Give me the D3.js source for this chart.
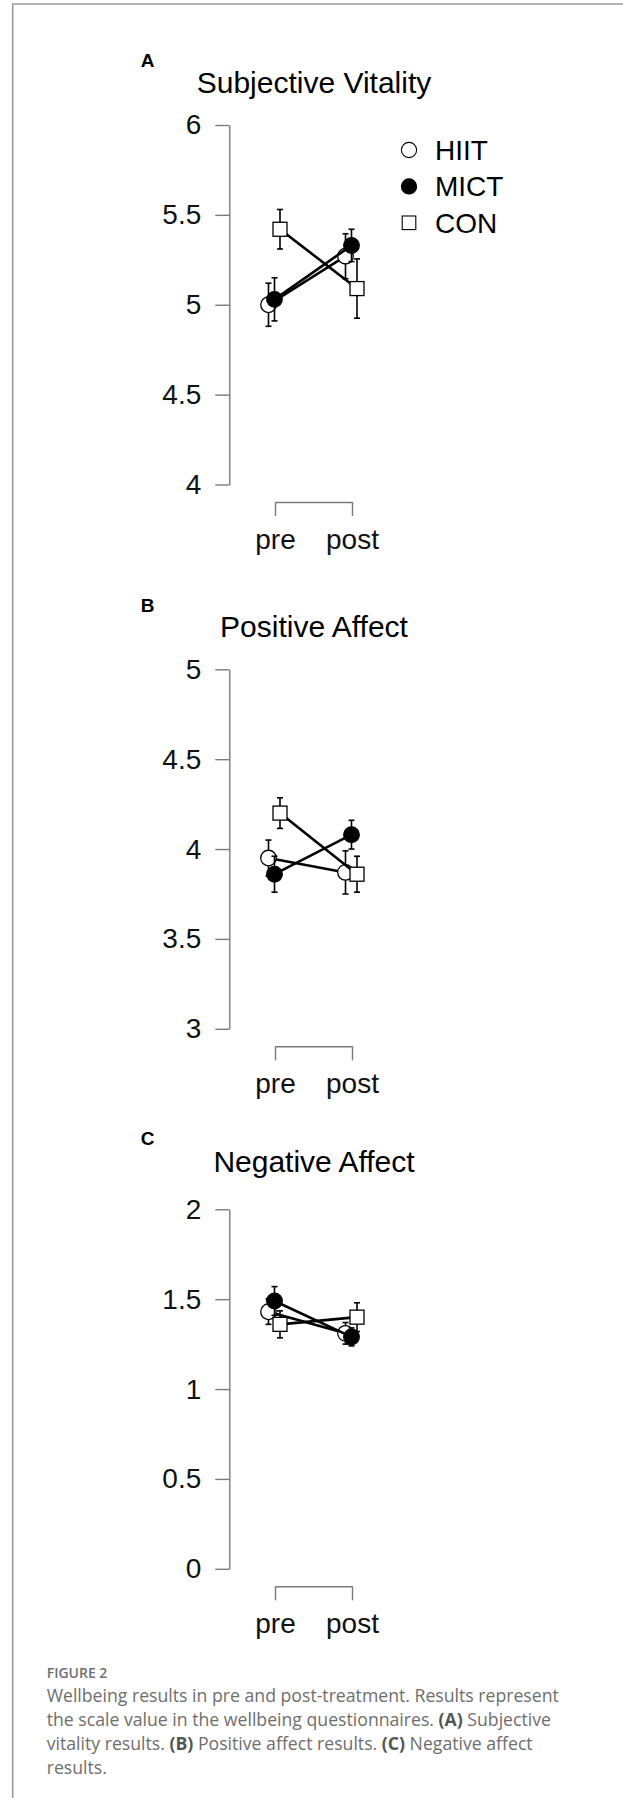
<!DOCTYPE html>
<html>
<head>
<meta charset="utf-8">
<script src="https://cdn.jsdelivr.net/npm/d3@7"></script>
<style>
  body { margin: 0; background: #fff; }
  svg { display: block; }
</style>
</head>
<body>
<svg id="fig" width="623" height="1798"></svg>
<script>
var times = ['pre', 'post'];
var groups = ['HIIT', 'MICT', 'CON'];

var panelLetters = ['A', 'B', 'C'];
var panelTitles = ['Subjective Vitality', 'Positive Affect', 'Negative Affect'];
var yDomains = [[4, 6], [3, 5], [0, 2]];
var yTicks = [[4, 4.5, 5, 5.5, 6], [3, 3.5, 4, 4.5, 5], [0, 0.5, 1, 1.5, 2]];

// means, [pre, post]
var vitalityHIIT = [5.00, 5.27];
var vitalityMICT = [5.03, 5.33];
var vitalityCON = [5.42, 5.09];
var positiveHIIT = [3.95, 3.87];
var positiveMICT = [3.86, 4.08];
var positiveCON = [4.20, 3.86];
var negativeHIIT = [1.43, 1.31];
var negativeMICT = [1.49, 1.29];
var negativeCON = [1.36, 1.40];

// standard errors, [pre, post]
var vitalityHIITse = [0.12, 0.125];
var vitalityMICTse = [0.12, 0.09];
var vitalityCONse = [0.11, 0.165];
var positiveHIITse = [0.10, 0.12];
var positiveMICTse = [0.10, 0.08];
var positiveCONse = [0.085, 0.10];
var negativeHIITse = [0.07, 0.06];
var negativeMICTse = [0.08, 0.05];
var negativeCONse = [0.075, 0.08];

var panelMeans = [
  [vitalityHIIT, vitalityMICT, vitalityCON],
  [positiveHIIT, positiveMICT, positiveCON],
  [negativeHIIT, negativeMICT, negativeCON]
];
var panelSE = [
  [vitalityHIITse, vitalityMICTse, vitalityCONse],
  [positiveHIITse, positiveMICTse, positiveCONse],
  [negativeHIITse, negativeMICTse, negativeCONse]
];

var captionHead = 'FIGURE 2';
var captionLines = [
  [['Wellbeing results in pre and post-treatment. Results represent', false]],
  [['the scale value in the wellbeing questionnaires. ', false], ['(A)', true], [' Subjective', false]],
  [['vitality results. ', false], ['(B)', true], [' Positive affect results. ', false], ['(C)', true], [' Negative affect', false]],
  [['results.', false]]
];

/* ===== LAYOUT ===== */

var axisX = 229.3;
var axisH = 359.5;
var panelTop = [125, 669.3, 1209.3];
var titleY = [92.7, 636.7, 1171.7];
var letterY = [66.7, 612.3, 1145];
var titleX = 314;
var chartFont = '"Liberation Sans", Arial, sans-serif';
var captionFont = '"Open Sans", "Noto Sans", sans-serif';

var svg = d3.select('#fig');

// frame lines
svg.append('path')
  .attr('d', 'M623,4 H12.7 V1798')
  .attr('fill', 'none')
  .attr('stroke', '#9a9a9a')
  .attr('stroke-width', 1.6);

var xScale = d3.scalePoint()
  .domain(times)
  .range([275, 352]);

var dodge = d3.scaleOrdinal()
  .domain(groups)
  .range([-6.5, -0.5, 5]);

var fillOf = d3.scaleOrdinal()
  .domain(groups)
  .range(['#fff', '#000', '#fff']);

function drawMarker(sel, group, size) {
  if (group === 'CON') {
    sel.append('rect')
      .attr('x', -size)
      .attr('y', -size)
      .attr('width', size * 2)
      .attr('height', size * 2)
      .attr('fill', '#fff')
      .attr('stroke', '#000')
      .attr('stroke-width', 1.3);
  } else {
    sel.append('circle')
      .attr('r', size + 0.8)
      .attr('fill', fillOf(group))
      .attr('stroke', '#000')
      .attr('stroke-width', 1.3);
  }
}

panelTitles.forEach(function (title, p) {
  var top = panelTop[p];
  var g = svg.append('g').attr('font-family', chartFont);

  var yScale = d3.scaleLinear()
    .domain(yDomains[p])
    .range([top + axisH, top]);

  /* ===== TITLES ===== */

  g.append('text')
    .attr('x', 140.7)
    .attr('y', letterY[p])
    .attr('font-size', 19)
    .attr('font-weight', 'bold')
    .text(panelLetters[p]);

  g.append('text')
    .attr('x', titleX)
    .attr('y', titleY[p])
    .attr('text-anchor', 'middle')
    .attr('font-size', 30)
    .text(title);

  /* ===== AXES ===== */

  var yAxis = d3.axisLeft(yScale)
    .tickValues(yTicks[p])
    .tickFormat(function (d) { return String(d); })
    .tickSize(14)
    .tickSizeOuter(0)
    .tickPadding(14);

  var yG = g.append('g')
    .attr('transform', 'translate(' + axisX + ',0)')
    .call(yAxis);
  yG.selectAll('path, line').attr('stroke', '#7a7a7a').attr('stroke-width', 1.4);
  yG.selectAll('text')
    .attr('font-size', 28)
    .attr('font-family', chartFont)
    .attr('fill', '#111');

  var xAxis = d3.axisBottom(xScale)
    .tickSize(14)
    .tickSizeOuter(0)
    .tickPadding(13);

  var xG = g.append('g')
    .attr('transform', 'translate(0,' + (top + axisH + 17.5) + ')')
    .call(xAxis);
  xG.selectAll('path, line').attr('stroke', '#7a7a7a').attr('stroke-width', 1.4);
  xG.selectAll('text')
    .attr('font-size', 28)
    .attr('font-family', chartFont)
    .attr('fill', '#111');

  /* ===== DATA ===== */

  var series = groups.map(function (grp, i) {
    return {
      group: grp,
      values: times.map(function (t, j) {
        return { time: t, mean: panelMeans[p][i][j], se: panelSE[p][i][j] };
      })
    };
  });

  var line = d3.line()
    .x(function (d) { return xScale(d.time); })
    .y(function (d) { return yScale(d.mean); });

  var groupG = g.selectAll('g.series')
    .data(series)
    .enter()
    .append('g')
    .attr('class', 'series')
    .attr('transform', function (d) { return 'translate(' + dodge(d.group) + ',0)'; });

  groupG.append('path')
    .attr('d', function (d) { return line(d.values); })
    .attr('fill', 'none')
    .attr('stroke', '#000')
    .attr('stroke-width', 2.6);

  var bars = groupG.selectAll('g.err')
    .data(function (d) { return d.values; })
    .enter()
    .append('g')
    .attr('class', 'err')
    .attr('stroke', '#000')
    .attr('stroke-width', 1.6);

  bars.append('line')
    .attr('x1', function (d) { return xScale(d.time); })
    .attr('x2', function (d) { return xScale(d.time); })
    .attr('y1', function (d) { return yScale(d.mean - d.se); })
    .attr('y2', function (d) { return yScale(d.mean + d.se); });

  [-1, 1].forEach(function (sign) {
    bars.append('line')
      .attr('x1', function (d) { return xScale(d.time) - 3; })
      .attr('x2', function (d) { return xScale(d.time) + 3; })
      .attr('y1', function (d) { return yScale(d.mean + sign * d.se); })
      .attr('y2', function (d) { return yScale(d.mean + sign * d.se); });
  });

  groupG.each(function (s) {
    d3.select(this).selectAll('g.pt')
      .data(s.values)
      .enter()
      .append('g')
      .attr('class', 'pt')
      .attr('transform', function (d) {
        return 'translate(' + xScale(d.time) + ',' + yScale(d.mean) + ')';
      })
      .each(function () { drawMarker(d3.select(this), s.group, 7); });
  });

  /* ===== LEGEND ===== */

  if (p === 0) {
    var legend = g.selectAll('g.legend')
      .data(groups)
      .enter()
      .append('g')
      .attr('class', 'legend')
      .attr('transform', function (d, i) { return 'translate(409,' + (150 + i * 36.4) + ')'; });

    legend.each(function (d) { drawMarker(d3.select(this), d, 6.8); });
    legend.selectAll('circle').attr('stroke-width', 1.1);
    legend.selectAll('rect').attr('stroke-width', 1.1);

    legend.append('text')
      .attr('x', 26)
      .attr('y', 10)
      .attr('font-size', 28)
      .text(function (d) { return d; });
  }
});

/* ===== CAPTION ===== */

var cap = svg.append('g').attr('font-family', captionFont);

cap.append('text')
  .attr('x', 46.7)
  .attr('y', 1678.3)
  .attr('font-size', 14)
  .attr('font-weight', 600)
  .attr('fill', '#707070')
  .text(captionHead);

var capText = cap.selectAll('text.line')
  .data(captionLines)
  .enter()
  .append('text')
  .attr('class', 'line')
  .attr('x', 46.7)
  .attr('y', function (d, i) { return 1702.3 + i * 23.9; })
  .attr('font-size', 17)
  .attr('fill', '#6e6e6e');

capText.selectAll('tspan')
  .data(function (d) { return d; })
  .enter()
  .append('tspan')
  .attr('font-weight', function (d) { return d[1] ? 700 : 400; })
  .attr('fill', function (d) { return d[1] ? '#555' : '#6e6e6e'; })
  .text(function (d) { return d[0]; });

// fit the caption to the width of the first line in the figure
var firstW = capText.node().getComputedTextLength();
capText.attr('font-size', 17 * 512.6 / firstW);
</script>
</body>
</html>
